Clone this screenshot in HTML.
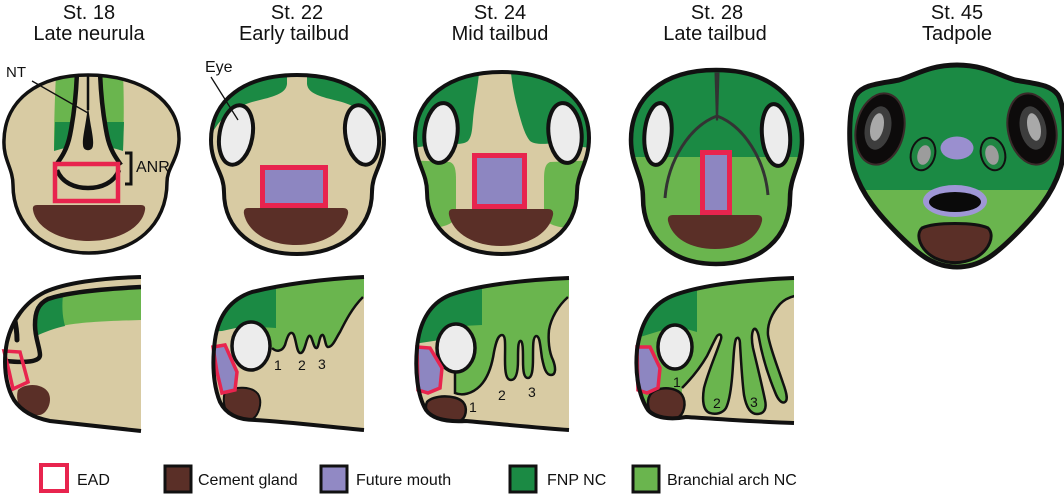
<!DOCTYPE html>
<html><head><meta charset="utf-8"><style>
html,body{margin:0;padding:0;background:#fff;}
svg{display:block;}
text{font-family:"Liberation Sans",Arial,sans-serif;fill:#111;}
</style></head><body>
<svg width="1064" height="497" viewBox="0 0 1064 497" xmlns="http://www.w3.org/2000/svg">
<defs>
<clipPath id="c18"><path d="M88,75 C140,75 180,100 179,140 C178,160 167,168 167,182 C167,225 135,253 89,253 C43,253 13,225 13,185 C13,168 3,160 4,140 C5,100 38,75 88,75 Z"/></clipPath>
<clipPath id="c22"><path d="M297,75 C350,75 384,100 384,140 C384,165 372,172 372,192 C372,230 340,254 297,254 C254,254 224,230 224,192 C224,172 211,165 211,140 C211,100 245,75 297,75 Z"/></clipPath>
<clipPath id="c24"><path d="M502,72 C555,72 589,98 589,138 C589,163 577,172 577,192 C577,230 545,254 502,254 C459,254 427,230 427,192 C427,172 415,163 415,138 C415,98 449,72 502,72 Z"/></clipPath>
<clipPath id="c28"><path d="M716,70 C770,70 802,98 802,140 C802,165 790,175 790,198 C790,238 760,264 716,264 C672,264 643,238 643,198 C643,175 631,165 631,140 C631,98 662,70 716,70 Z"/></clipPath>
<clipPath id="c45"><path d="M957,65 C985,65 1000,76 1015,80 C1035,84 1050,84 1058,95 C1066,108 1066,150 1060,170 C1052,195 1035,215 1015,235 C995,255 980,267 957,267 C934,267 919,255 899,235 C879,215 862,195 854,170 C848,150 848,108 856,95 C864,84 879,84 899,80 C914,76 929,65 957,65 Z"/></clipPath>
<clipPath id="s18"><path d="M141,277 C100,278 65,283 45,292 C25,302 12,320 7,342 C3,362 5,385 14,400 C22,412 35,418 50,421 L141,431 Z"/></clipPath>
<clipPath id="s22"><path d="M364,277 C320,279 280,285 252,292 C228,300 218,318 215,340 C212,362 213,385 220,402 C226,414 238,420 255,420 C290,422 330,427 364,430 Z"/></clipPath>
<clipPath id="s24"><path d="M569,278 C520,280 475,286 450,295 C428,304 419,325 417,348 C415,370 417,395 426,410 C433,420 450,422 466,421 C500,424 540,428 569,430 Z"/></clipPath>
<clipPath id="s28"><path d="M794,278 C745,280 700,285 672,296 C648,306 640,328 637,350 C635,372 638,395 648,410 C655,418 670,420 686,417 C720,419 760,422 794,423 Z"/></clipPath>
</defs>

<!-- Titles -->
<g font-size="20" text-anchor="middle">
<text x="89" y="19">St. 18</text><text x="89" y="40">Late neurula</text>
<text x="297" y="19">St. 22</text><text x="294" y="40">Early tailbud</text>
<text x="500" y="19">St. 24</text><text x="500" y="40">Mid tailbud</text>
<text x="717" y="19">St. 28</text><text x="715" y="40">Late tailbud</text>
<text x="957" y="19">St. 45</text><text x="957" y="40">Tadpole</text>
</g>

<!-- ===== St.18 front ===== -->
<g clip-path="url(#c18)">
<rect x="0" y="60" width="200" height="200" fill="#d8cba3"/>
<path d="M56,74 L77,74 L72,130 L66,148 L54,150 C54,120 55,95 56,74 Z" fill="#6ab54e"/>
<path d="M55,122 L73,122 L68,147 L54,151 Z" fill="#1b8a44"/>
<path d="M100,74 L123,74 C124,95 124,120 123,150 L111,148 L106,130 Z" fill="#6ab54e"/>
<path d="M105,122 L124,122 L123,151 L110,147 Z" fill="#1b8a44"/>
<path d="M77,72 C76,100 73,120 70,135 C67,150 61,158 56,165" stroke="#111" stroke-width="4.5" fill="none"/>
<path d="M100,72 C101,100 104,120 107,135 C110,150 116,158 121,165" stroke="#111" stroke-width="4.5" fill="none"/>
<line x1="88" y1="75" x2="88" y2="110" stroke="#111" stroke-width="2.5"/>
<path d="M88,105 C90,125 94,138 93,145 C93,152 83,152 83,145 C82,138 86,125 88,105 Z" fill="#111"/>
<path d="M57,170 C62,183 75,188 88,188 C101,188 114,183 119,170" stroke="#111" stroke-width="4.5" fill="none"/>
<path d="M37,205 L141,205 Q146,205 145,210 C142,228 118,241 89,241 C60,241 36,228 33,210 Q32,205 37,205 Z" fill="#5a2f27"/>
</g>
<rect x="55" y="164" width="63" height="37" fill="none" stroke="#e8244e" stroke-width="4.5"/>
<path d="M88,75 C140,75 180,100 179,140 C178,160 167,168 167,182 C167,225 135,253 89,253 C43,253 13,225 13,185 C13,168 3,160 4,140 C5,100 38,75 88,75 Z" fill="none" stroke="#111" stroke-width="3.5"/>
<path d="M125,153 L131,153 L131,184 L125,184" fill="none" stroke="#111" stroke-width="3"/>
<text x="136" y="172" font-size="16">ANR</text>
<text x="6" y="77" font-size="15">NT</text>
<line x1="32" y1="81" x2="88" y2="113" stroke="#111" stroke-width="1.3"/>

<!-- ===== St.22 front ===== -->
<g clip-path="url(#c22)">
<rect x="200" y="60" width="200" height="200" fill="#d8cba3"/>
<path d="M200,60 L287,60 L287,84 C286,94 272,97 256,101 C240,105 228,112 218,124 L200,150 Z" fill="#1b8a44"/>
<path d="M394,60 L307,60 L307,84 C308,94 322,97 338,101 C354,105 366,112 376,124 L394,150 Z" fill="#1b8a44"/>
<path d="M248,208 L343,208 Q349,208 348,214 C344,233 322,245 296,245 C270,245 248,233 244,214 Q243,208 248,208 Z" fill="#5a2f27"/>
</g>
<ellipse cx="236" cy="135" rx="16.5" ry="30" transform="rotate(10 236 135)" fill="#ececec" stroke="#111" stroke-width="4"/>
<ellipse cx="362" cy="135" rx="16.5" ry="30" transform="rotate(-10 362 135)" fill="#ececec" stroke="#111" stroke-width="4"/>
<rect x="262.5" y="167.5" width="63" height="38" fill="#8d86c1" stroke="#e8244e" stroke-width="5"/>
<path d="M297,75 C350,75 384,100 384,140 C384,165 372,172 372,192 C372,230 340,254 297,254 C254,254 224,230 224,192 C224,172 211,165 211,140 C211,100 245,75 297,75 Z" fill="none" stroke="#111" stroke-width="4"/>
<text x="205" y="72" font-size="16">Eye</text>
<line x1="211" y1="77" x2="238" y2="120" stroke="#111" stroke-width="1.3"/>

<!-- ===== St.24 front ===== -->
<g clip-path="url(#c24)">
<rect x="400" y="60" width="200" height="200" fill="#d8cba3"/>
<path d="M400,60 L480,60 C479,80 476,95 474,110 C472,125 473,135 468,141 C463,145 455,144 445,143 L400,150 Z" fill="#1b8a44"/>
<path d="M604,60 L510,60 C511,80 514,95 518,110 C522,125 525,135 530,141 C535,145 545,144 555,143 L604,150 Z" fill="#1b8a44"/>
<path d="M405,160 L450,162 C455,164 456,170 456,180 L456,214 C456,221 450,225 440,227 L405,232 Z" fill="#6ab54e"/>
<path d="M600,160 L550,162 C545,164 544,170 544,180 L544,214 C544,221 550,225 560,227 L600,232 Z" fill="#6ab54e"/>
<path d="M453,209 L548,209 Q554,209 553,215 C549,234 527,246 501,246 C475,246 453,234 449,215 Q448,209 453,209 Z" fill="#5a2f27"/>
</g>
<ellipse cx="441" cy="133" rx="16.5" ry="30" transform="rotate(6 441 133)" fill="#ececec" stroke="#111" stroke-width="4"/>
<ellipse cx="565" cy="133" rx="16.5" ry="30" transform="rotate(-6 565 133)" fill="#ececec" stroke="#111" stroke-width="4"/>
<rect x="474.5" y="155.5" width="50" height="51" fill="#8d86c1" stroke="#e8244e" stroke-width="5"/>
<path d="M502,72 C555,72 589,98 589,138 C589,163 577,172 577,192 C577,230 545,254 502,254 C459,254 427,230 427,192 C427,172 415,163 415,138 C415,98 449,72 502,72 Z" fill="none" stroke="#111" stroke-width="4"/>

<!-- ===== St.28 front ===== -->
<g clip-path="url(#c28)">
<rect x="620" y="60" width="200" height="220" fill="#6ab54e"/>
<rect x="620" y="60" width="200" height="97" fill="#1b8a44"/>
<path d="M715,73 L719,73 L717.6,120 L716.4,120 Z" fill="#333" stroke="#333" stroke-width="1"/>
<path d="M665,198 C668,160 690,126 717,116 C744,126 765,160 768,195" stroke="#333" stroke-width="3" fill="none"/>
<path d="M673,215 L757,215 Q763,215 762,221 C758,238 740,249 715,249 C690,249 672,238 668,221 Q667,215 673,215 Z" fill="#5a2f27"/>
</g>
<ellipse cx="658" cy="134" rx="13.5" ry="31" transform="rotate(5 658 134)" fill="#ececec" stroke="#111" stroke-width="4"/>
<ellipse cx="776" cy="135" rx="14" ry="31" transform="rotate(-5 776 135)" fill="#ececec" stroke="#111" stroke-width="4"/>
<rect x="702.5" y="152.5" width="27" height="60" fill="#8d86c1" stroke="#e8244e" stroke-width="5"/>
<path d="M716,70 C770,70 802,98 802,140 C802,165 790,175 790,198 C790,238 760,264 716,264 C672,264 643,238 643,198 C643,175 631,165 631,140 C631,98 662,70 716,70 Z" fill="none" stroke="#111" stroke-width="4.5"/>

<!-- ===== St.45 ===== -->
<g clip-path="url(#c45)">
<rect x="840" y="60" width="230" height="130" fill="#1b8a44"/>
<rect x="840" y="190" width="230" height="90" fill="#6ab54e"/>
</g>
<ellipse cx="880" cy="129" rx="24" ry="36" transform="rotate(12 880 129)" fill="#0d0b0b" stroke="#3a2a2a" stroke-width="2"/>
<ellipse cx="878" cy="128" rx="13" ry="22" transform="rotate(12 878 128)" fill="#3d3d3d"/>
<ellipse cx="877" cy="127" rx="6.5" ry="14" transform="rotate(12 877 127)" fill="#a9a9a9"/>
<ellipse cx="1032" cy="129" rx="24" ry="36" transform="rotate(-12 1032 129)" fill="#0d0b0b" stroke="#3a2a2a" stroke-width="2"/>
<ellipse cx="1033" cy="128" rx="13" ry="22" transform="rotate(-12 1033 128)" fill="#3d3d3d"/>
<ellipse cx="1034" cy="127" rx="6.5" ry="14" transform="rotate(-12 1034 127)" fill="#a9a9a9"/>
<ellipse cx="923" cy="154" rx="12" ry="16.5" transform="rotate(15 923 154)" fill="#1f8542" stroke="#111" stroke-width="2"/>
<ellipse cx="924" cy="155" rx="6.5" ry="10" transform="rotate(15 924 155)" fill="#9c9c9c"/>
<ellipse cx="993" cy="154" rx="12" ry="16.5" transform="rotate(-15 993 154)" fill="#1f8542" stroke="#111" stroke-width="2"/>
<ellipse cx="992" cy="155" rx="6.5" ry="10" transform="rotate(-15 992 155)" fill="#9c9c9c"/>
<ellipse cx="957" cy="148" rx="16.5" ry="11.5" fill="#9a8fcf"/>
<ellipse cx="955" cy="201" rx="32" ry="16" fill="#9f97d6"/>
<ellipse cx="955" cy="202" rx="26" ry="10" fill="#0a0a0a"/>
<path d="M922,228 C935,222 975,222 988,228 C995,235 990,250 975,258 C962,264 948,264 935,258 C920,250 915,235 922,228 Z" fill="#5a2f27" stroke="#111" stroke-width="3"/>
<path d="M957,65 C985,65 1000,76 1015,80 C1035,84 1050,84 1058,95 C1066,108 1066,150 1060,170 C1052,195 1035,215 1015,235 C995,255 980,267 957,267 C934,267 919,255 899,235 C879,215 862,195 854,170 C848,150 848,108 856,95 C864,84 879,84 899,80 C914,76 929,65 957,65 Z" fill="none" stroke="#111" stroke-width="5"/>

<!-- ===== St.18 side ===== -->
<g clip-path="url(#s18)">
<rect x="0" y="270" width="145" height="170" fill="#d8cba3"/>
<path d="M60,293 C90,290 120,288 141,288 L141,320 C110,321 80,322 62,326 Z" fill="#6ab54e"/>
<path d="M36,307 C42,300 52,296 63,294 C62,305 62,315 65,326 C55,328 45,332 36,336 Z" fill="#1b8a44"/>
<path d="M141,287 C100,289 65,293 48,299 C38,304 35,312 35,325 C35,338 40,348 40,355 C40,362 25,363 6,361" stroke="#111" stroke-width="4.5" fill="none"/>
<path d="M14,316 C16,325 17,332 17,340" stroke="#111" stroke-width="5" stroke-linecap="round" fill="none"/>
<path d="M18,390 C25,383 42,383 48,392 C53,400 48,413 40,415 L28,415 C20,411 15,400 18,390 Z" fill="#5a2f27"/>
</g>
<polygon points="4,351 20,352 28,382 13,389 9,371" fill="none" stroke="#e8244e" stroke-width="3.5"/>
<path d="M141,277 C100,278 65,283 45,292 C25,302 12,320 7,342 C3,362 5,385 14,400 C22,412 35,418 50,421 L141,431" fill="none" stroke="#111" stroke-width="4"/>

<!-- ===== St.22 side ===== -->
<g clip-path="url(#s22)">
<rect x="200" y="270" width="170" height="170" fill="#d8cba3"/>
<path d="M262,265 L370,265 L370,297 L363,297 C352,308 345,322 340,332 C336,338 333,347 328,347 C325,347 325,334 322,335 C319,336 319,349 316,348 C313,347 312,334 309,336 C306,338 305,354 300,353 C296,352 296,334 292,333 C289,332 287,338 285,345 C282,352 276,352 272,348 L262,348 Z" fill="#6ab54e"/>
<path d="M200,268 L276,268 L276,328 L245,326 L222,331 L205,332 Z" fill="#1b8a44"/>
<path d="M272,348 C276,352 282,352 285,345 C287,338 289,332 292,333 C296,334 296,352 300,353 C305,354 306,338 309,336 C312,334 313,347 316,348 C319,349 319,336 322,335 C325,334 325,347 328,347 C333,347 336,338 340,332 C345,322 352,308 363,297" fill="none" stroke="#111" stroke-width="2.5"/>
<path d="M225,392 C235,386 252,386 258,394 C263,402 259,416 251,420 L232,420 C225,415 222,400 225,392 Z" fill="#5a2f27" stroke="#111" stroke-width="2"/>
</g>
<ellipse cx="251" cy="346" rx="19" ry="24" fill="#ececec" stroke="#111" stroke-width="3.5"/>
<polygon points="213,347 225,345 237,372 235,390 222,393 217,372" fill="#8d86c1" stroke="#e8244e" stroke-width="3.5"/>
<path d="M364,277 C320,279 280,285 252,292 C228,300 218,318 215,340 C212,362 213,385 220,402 C226,414 238,420 255,420 C290,422 330,427 364,430" fill="none" stroke="#111" stroke-width="4"/>
<g font-size="14" fill="#222"><text x="274" y="370">1</text><text x="298" y="370">2</text><text x="318" y="369">3</text></g>

<!-- ===== St.24 side ===== -->
<g clip-path="url(#s24)">
<rect x="405" y="270" width="170" height="170" fill="#d8cba3"/>
<path d="M462,320 L455,372 L455,393 C462,396 472,394 480,386 C488,378 492,365 494,352 C496,342 498,335 502,335 C506,335 505,345 505,360 C505,372 506,380 511,380 C516,380 518,372 518,360 C518,350 518,342 520,341 C523,340 523,350 523,360 C523,372 524,378 528,378 C532,378 533,370 533,358 C533,345 533,337 536,336 C540,336 540,345 542,358 C544,368 546,375 551,375 C556,375 556,368 553,360 C549,352 548,340 549,330 C551,318 558,306 568,297 L575,297 L575,265 L462,265 Z" fill="#6ab54e"/>
<path d="M400,265 L482,265 L482,325 L462,326 L440,340 L400,346 Z" fill="#1b8a44"/>
<path d="M455,372 L455,393 C462,396 472,394 480,386 C488,378 492,365 494,352 C496,342 498,335 502,335 C506,335 505,345 505,360 C505,372 506,380 511,380 C516,380 518,372 518,360 C518,350 518,342 520,341 C523,340 523,350 523,360 C523,372 524,378 528,378 C532,378 533,370 533,358 C533,345 533,337 536,336 C540,336 540,345 542,358 C544,368 546,375 551,375 C556,375 556,368 553,360 C549,352 548,340 549,330 C551,318 558,306 568,297" fill="none" stroke="#111" stroke-width="2.5"/>
<path d="M427,402 C433,395 455,394 463,402 C468,408 466,418 460,421 L435,421 C428,418 424,408 427,402 Z" fill="#5a2f27" stroke="#111" stroke-width="2.5"/>
</g>
<ellipse cx="456" cy="348" rx="19" ry="24" fill="#ececec" stroke="#111" stroke-width="3.5"/>
<polygon points="417,347 430,348 442,368 440,388 428,393 418,390" fill="#8d86c1" stroke="#e8244e" stroke-width="3.5"/>
<path d="M569,278 C520,280 475,286 450,295 C428,304 419,325 417,348 C415,370 417,395 426,410 C433,420 450,422 466,421 C500,424 540,428 569,430" fill="none" stroke="#111" stroke-width="4"/>
<g font-size="14" fill="#222"><text x="469" y="412">1</text><text x="498" y="400">2</text><text x="528" y="397">3</text></g>

<!-- ===== St.28 side ===== -->
<g clip-path="url(#s28)">
<rect x="625" y="270" width="175" height="160" fill="#6ab54e"/>
<path d="M600,265 L697,265 L697,332 L676,326 L640,337 L600,340 Z" fill="#1b8a44"/>
<path d="M682,388 C690,380 700,368 707,356 C711,348 714,341 717,336 C720,333 722,335 721,339 C717,352 708,372 704,388 C702,400 703,411 710,413 C716,415 723,413 726,408 C730,400 732,382 733,365 C734,352 734,344 736,339 C738,336 740,339 740,344 C741,360 742,380 744,395 C746,406 750,414 757,414 C764,414 767,409 765,400 C762,385 757,365 753,348 C751,338 752,331 754,329 C756,328 758,332 759,338 C762,355 768,375 775,392 C778,400 782,404 785,402 C788,400 787,394 783,383 C777,365 770,348 768,335 C767,322 773,312 780,304 C785,299 790,297 795,296 L800,296 L800,440 L680,440 Z" fill="#d8cba3"/>
<path d="M682,388 C690,380 700,368 707,356 C711,348 714,341 717,336 C720,333 722,335 721,339 C717,352 708,372 704,388 C702,400 703,411 710,413 C716,415 723,413 726,408 C730,400 732,382 733,365 C734,352 734,344 736,339 C738,336 740,339 740,344 C741,360 742,380 744,395 C746,406 750,414 757,414 C764,414 767,409 765,400 C762,385 757,365 753,348 C751,338 752,331 754,329 C756,328 758,332 759,338 C762,355 768,375 775,392 C778,400 782,404 785,402 C788,400 787,394 783,383 C777,365 770,348 768,335 C767,322 773,312 780,304 C785,299 790,297 795,296" fill="none" stroke="#111" stroke-width="2.5"/>
<path d="M650,395 C656,386 676,386 682,395 C687,403 684,415 677,418 L656,418 C648,414 646,402 650,395 Z" fill="#5a2f27" stroke="#111" stroke-width="2.5"/>
</g>
<ellipse cx="675" cy="347" rx="17" ry="22" fill="#ececec" stroke="#111" stroke-width="3.5"/>
<polygon points="637,347 650,347 660,368 658,388 647,393 638,390" fill="#8d86c1" stroke="#e8244e" stroke-width="3.5"/>
<path d="M794,278 C745,280 700,285 672,296 C648,306 640,328 637,350 C635,372 638,395 648,410 C655,418 670,420 686,417 C720,419 760,422 794,423" fill="none" stroke="#111" stroke-width="4"/>
<g font-size="14" fill="#222"><text x="673" y="387">1</text><text x="713" y="408">2</text><text x="750" y="407">3</text></g>

<!-- ===== Legend ===== -->
<rect x="41" y="465" width="26" height="26" fill="#fff" stroke="#e8244e" stroke-width="4"/>
<text x="77" y="485" font-size="16">EAD</text>
<rect x="165" y="466" width="26" height="26" fill="#5a2f27" stroke="#111" stroke-width="3"/>
<text x="198" y="485" font-size="16">Cement gland</text>
<rect x="321" y="466" width="26" height="26" fill="#9189c4" stroke="#111" stroke-width="3"/>
<text x="356" y="485" font-size="16">Future mouth</text>
<rect x="510" y="466" width="26" height="26" fill="#1b8a44" stroke="#111" stroke-width="3"/>
<text x="547" y="485" font-size="16">FNP NC</text>
<rect x="633" y="466" width="26" height="26" fill="#6ab54e" stroke="#111" stroke-width="3"/>
<text x="667" y="485" font-size="16">Branchial arch NC</text>
</svg>
</body></html>
